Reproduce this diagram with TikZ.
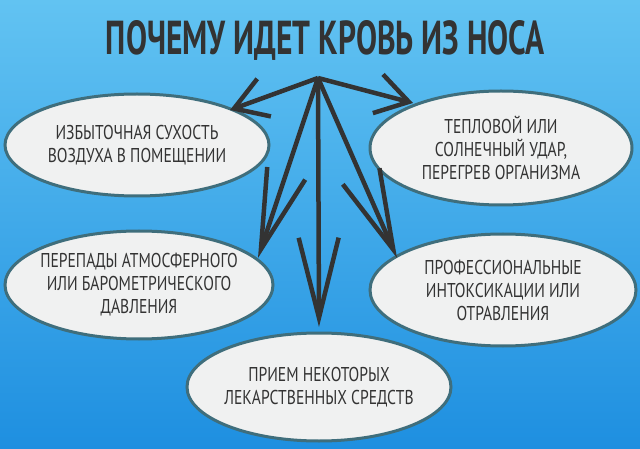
\documentclass[tikz,border=0pt]{standalone}
\usepackage{fontspec}
\setmainfont{PT Sans}
\usetikzlibrary{arrows.meta,shapes.geometric}
\definecolor{bgtop}{HTML}{62C3F2}
\definecolor{bgbot}{HTML}{1E8FE0}
\definecolor{ink}{HTML}{333333}
\definecolor{rim}{HTML}{3F6E7C}
\definecolor{fillc}{HTML}{F0F1F1}
\newcommand{\nl}[1]{\scalebox{0.78}[1]{#1}}
\tikzset{
 cause/.style={ellipse,draw=rim,line width=3pt,fill=fillc,minimum width=#1,inner sep=0pt},
 ctext/.style={align=center,font=\fontsize{20}{23}\selectfont,text=ink,inner sep=0pt},
 arr/.style={draw=ink,line width=4.5pt,-{Straight Barb[length=32pt,width=40pt,line width=4.5pt]}},
 longarr/.style={draw=ink,line width=4.5pt,-{Straight Barb[length=80pt,width=40pt,line width=4.5pt]}}
}
\begin{document}
\begin{tikzpicture}[x=1pt,y=-1pt]
\shade[top color=bgtop,bottom color=bgbot] (0,0) rectangle (640,449);
\useasboundingbox (0,0) rectangle (640,449);
\node[text=ink,font=\bfseries] (t) at (325,40) {\resizebox{438pt}{34pt}{ПОЧЕМУ ИДЕТ КРОВЬ ИЗ НОСА}};
\coordinate (o) at (318,78);
\node[cause=264pt,minimum height=102pt] (a) at (137,145) {};
\node[ctext] (at) at (a) {\nl{ИЗБЫТОЧНАЯ СУХОСТЬ}\\\nl{ВОЗДУХА В ПОМЕЩЕНИИ}};
\node[cause=262pt,minimum height=114pt] (b) at (501,148) {};
\node[ctext] (bt) at (b) {\nl{ТЕПЛОВОЙ ИЛИ}\\\nl{СОЛНЕЧНЫЙ УДАР,}\\\nl{ПЕРЕГРЕВ ОРГАНИЗМА}};
\node[cause=268pt,minimum height=108pt] (c) at (139,285) {};
\node[ctext] (ct) at (c) {\nl{ПЕРЕПАДЫ АТМОСФЕРНОГО}\\\nl{ИЛИ БАРОМЕТРИЧЕСКОГО}\\\nl{ДАВЛЕНИЯ}};
\node[cause=266pt,minimum height=112pt] (d) at (503,290) {};
\node[ctext] (dt) at (d) {\nl{ПРОФЕССИОНАЛЬНЫЕ}\\\nl{ИНТОКСИКАЦИИ ИЛИ}\\\nl{ОТРАВЛЕНИЯ}};
\node[cause=264pt,minimum height=108pt] (e) at (319,387) {};
\node[ctext] (et) at (e) {\nl{ПРИЕМ НЕКОТОРЫХ}\\\nl{ЛЕКАРСТВЕННЫХ СРЕДСТВ}};
\coordinate (ta) at (230,110);
\coordinate (tb) at (413,103);
\coordinate (tc) at (258,258);
\coordinate (td) at (397,258);
\coordinate (te) at (319,327);
\draw[arr] (o) -- (ta);
\draw[arr] (o) -- (tb);
\draw[longarr] (o) -- (tc);
\draw[longarr] (o) -- (td);
\draw[longarr] (o) -- (te);
\end{tikzpicture}
\end{document}
